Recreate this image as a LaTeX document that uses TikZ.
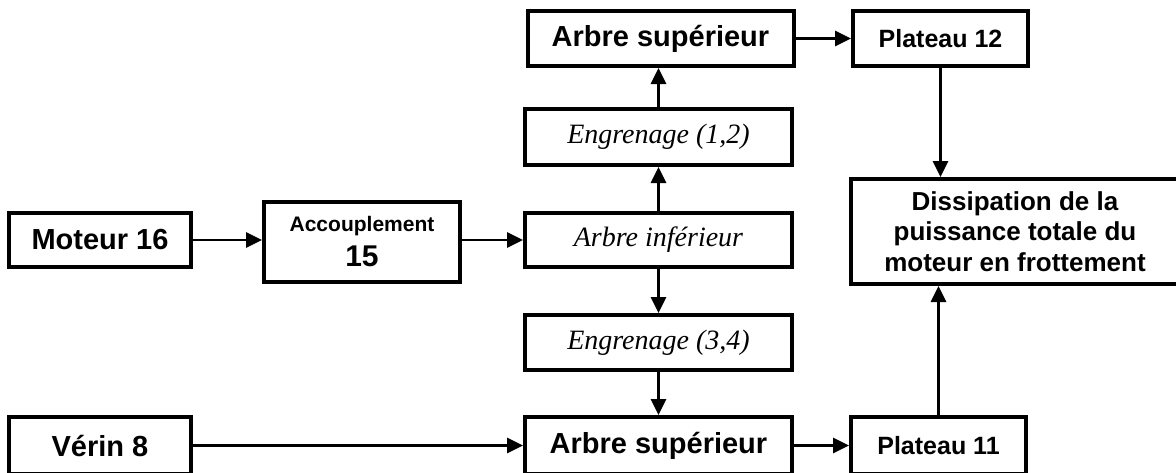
\documentclass[tikz,border=0pt]{standalone}
\usepackage{fontspec}
\setmainfont{Liberation Sans}
\newfontfamily\itserif{Liberation Serif}
\usetikzlibrary{arrows.meta}
\begin{document}
\begin{tikzpicture}[x=1pt,y=-1pt,
  box/.style={draw, line width=4pt, inner sep=0pt, align=center},
  big/.style={font=\bfseries\fontsize{29}{33}\selectfont},
  mid/.style={font=\bfseries\fontsize{25}{29}\selectfont},
  ital/.style={font=\itserif\itshape\fontsize{28}{32}\selectfont},
  arr/.style={line width=2.7pt, -{Triangle[length=16pt,width=15pt]}}]
\useasboundingbox (0,0) rectangle (1176,472);
\clip (0,0) rectangle (1176,472);
\node[box,big,minimum width=182,minimum height=54] (moteur) at (100,240) {Moteur 16};
\node[box,minimum width=196,minimum height=80,font=\bfseries\fontsize{30}{35}\selectfont] (acc) at (362,242) {{\fontsize{21}{24}\selectfont Accouplement}\\15};
\node[box,ital,minimum width=267,minimum height=54] (arbinf) at (658.5,240) {Arbre inférieur};
\node[box,ital,minimum width=267,minimum height=56] (eng12) at (658.5,137) {Engrenage (1,2)};
\node[box,big,minimum width=266,minimum height=55] (arbsup) at (660.5,38.5) {Arbre supérieur};
\node[box,mid,minimum width=175,minimum height=55] (plat12) at (940.5,38.5) {Plateau 12};
\node[box,minimum width=328,minimum height=105,font=\bfseries\fontsize{26}{30.5}\selectfont] (diss) at (1015,231.5) {Dissipation de la\\puissance totale du\\moteur en frottement};
\node[box,ital,minimum width=267,minimum height=55] (eng34) at (658.5,342.5) {Engrenage (3,4)};
\node[box,big,minimum width=267,minimum height=57] (arbsup2) at (658.5,445.5) {Arbre supérieur};
\node[box,mid,minimum width=175,minimum height=57] (plat11) at (938.5,445.5) {Plateau 11};
\node[box,big,minimum width=182,minimum height=57] (verin) at (100,445.5) {Vérin 8};
\draw[arr] (moteur) -- (moteur -| acc.west);
\draw[arr] (acc.east |- arbinf) -- (arbinf);
\draw[arr] (arbinf) -- (eng12);
\draw[arr] (eng12.north) -- (eng12.north |- arbsup.south);
\draw[arr] (arbsup) -- (plat12);
\draw[arr] (plat12.south) -- (plat12.south |- diss.north);
\draw[arr] (arbinf) -- (eng34);
\draw[arr] (eng34) -- (arbsup2);
\draw[arr] (verin) -- (arbsup2);
\draw[arr] (arbsup2) -- (plat11);
\draw[arr] (plat11.north) -- (plat11.north |- diss.south);
\end{tikzpicture}
\end{document}
